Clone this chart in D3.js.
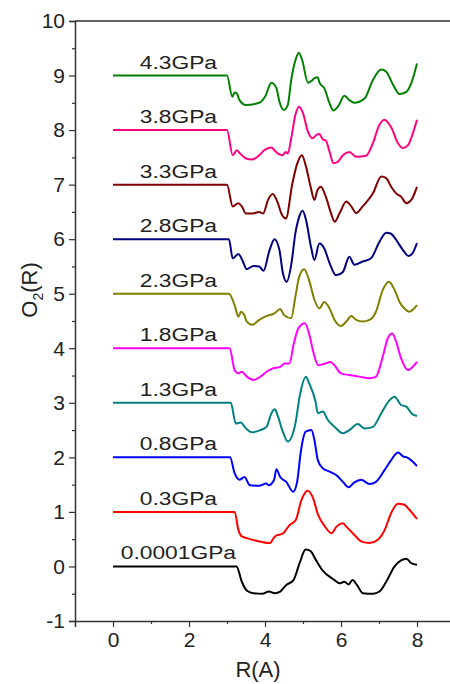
<!DOCTYPE html>
<html>
<head>
<meta charset="utf-8">
<script src="https://cdn.jsdelivr.net/npm/d3@7"></script>
<style>
  body { margin: 0; background: #fff; }
  svg text { font-family: Arial, "Liberation Sans", sans-serif; }
</style>
</head>
<body>
<svg width="450" height="684"></svg>
<script>
// pressure labels, bottom to top
var labels = ["0.0001GPa", "0.3GPa", "0.8GPa", "1.3GPa", "1.8GPa",
              "2.3GPa", "2.8GPa", "3.3GPa", "3.8GPa", "4.3GPa"];
var colors = ["#000000", "#ff0000", "#0000ff", "#008080", "#ff00ff",
              "#808000", "#000080", "#800000", "#ff0080", "#008000"];

// [R, O2(R)]
var p0001 = [[0,0],[3.25,0],[3.39,-0.28],[3.52,-0.44],[3.7,-0.49],[3.93,-0.5],[4.1,-0.46],[4.26,-0.49],
  [4.4,-0.46],[4.56,-0.34],[4.75,-0.25],[4.91,0.06],[5.07,0.31],[5.2,0.28],[5.33,0.13],[5.5,-0.06],
  [5.83,-0.25],[5.96,-0.31],[6.09,-0.28],[6.2,-0.33],[6.3,-0.25],[6.44,-0.36],[6.57,-0.49],[6.84,-0.5],
  [7.01,-0.46],[7.19,-0.28],[7.41,0.0],[7.58,0.11],[7.72,0.14],[7.85,0.06],[8.0,0.03]];
var p03 = [[0,1],[3.2,1],[3.3,0.67],[3.39,0.55],[3.52,0.52],[3.78,0.47],[4.13,0.43],[4.26,0.55],
  [4.48,0.61],[4.65,0.76],[4.81,0.85],[4.96,1.22],[5.12,1.39],[5.25,1.28],[5.4,0.94],[5.58,0.73],
  [5.75,0.61],[5.88,0.73],[6.05,0.79],[6.14,0.73],[6.35,0.58],[6.53,0.46],[6.75,0.43],[6.97,0.49],
  [7.15,0.67],[7.32,0.98],[7.5,1.15],[7.67,1.13],[7.8,1.04],[8.0,0.87]];
var p08 = [[0,2],[3.08,2],[3.2,1.71],[3.33,1.59],[3.46,1.64],[3.6,1.49],[3.85,1.48],[4.03,1.52],
  [4.1,1.49],[4.24,1.59],[4.3,1.78],[4.4,1.64],[4.56,1.55],[4.74,1.37],[4.84,1.53],[4.95,2.14],
  [5.07,2.47],[5.22,2.5],[5.3,2.32],[5.39,1.95],[5.52,1.8],[5.7,1.74],[5.92,1.65],[6.05,1.55],
  [6.2,1.45],[6.35,1.54],[6.53,1.59],[6.75,1.51],[6.92,1.55],[7.15,1.77],[7.32,1.95],[7.5,2.09],
  [7.63,2.02],[7.76,1.99],[7.89,1.92],[8.0,1.84]];
var p13 = [[0,3],[3.1,3],[3.23,2.62],[3.36,2.64],[3.5,2.53],[3.66,2.46],[3.88,2.5],[4.04,2.56],
  [4.17,2.81],[4.26,2.88],[4.34,2.75],[4.47,2.47],[4.6,2.29],[4.8,2.62],[4.92,3.15],[5.08,3.48],
  [5.16,3.36],[5.33,3.02],[5.39,2.81],[5.52,2.84],[5.65,2.69],[5.83,2.56],[6.05,2.44],[6.22,2.5],
  [6.44,2.61],[6.62,2.53],[6.84,2.56],[7.06,2.81],[7.28,3.05],[7.41,3.11],[7.58,2.96],[7.72,2.93],
  [7.85,2.81],[8.0,2.76]];
var p18 = [[0,4],[3.07,4],[3.2,3.6],[3.3,3.54],[3.39,3.57],[3.52,3.48],[3.7,3.42],[3.88,3.48],
  [4.04,3.57],[4.2,3.63],[4.4,3.66],[4.52,3.72],[4.64,3.72],[4.76,4.09],[4.88,4.37],[5.05,4.46],
  [5.18,4.21],[5.28,3.91],[5.4,3.69],[5.58,3.72],[5.72,3.75],[5.8,3.71],[6.0,3.54],[6.22,3.51],
  [6.48,3.48],[6.75,3.45],[6.92,3.48],[7.1,3.85],[7.23,4.18],[7.35,4.27],[7.45,4.12],[7.58,3.82],
  [7.76,3.6],[7.89,3.66],[8.0,3.75]];
var p23 = [[0,5],[3.05,5],[3.2,4.79],[3.3,4.58],[3.37,4.67],[3.45,4.62],[3.52,4.49],[3.66,4.43],
  [3.85,4.52],[4.03,4.59],[4.25,4.64],[4.4,4.72],[4.5,4.61],[4.69,4.55],[4.8,4.95],[4.9,5.31],
  [5.03,5.45],[5.16,5.25],[5.3,4.89],[5.43,4.73],[5.56,4.85],[5.7,4.73],[5.83,4.52],[6.0,4.41],
  [6.14,4.49],[6.27,4.59],[6.4,4.52],[6.57,4.49],[6.75,4.52],[6.92,4.67],[7.1,5.07],[7.26,5.22],
  [7.41,5.07],[7.54,4.85],[7.67,4.73],[7.8,4.67],[8.0,4.79]];
var p28 = [[0,6],[3.05,6],[3.15,5.65],[3.3,5.73],[3.4,5.62],[3.52,5.45],[3.7,5.51],[3.85,5.5],
  [3.96,5.42],[4.12,5.8],[4.25,6.0],[4.38,5.8],[4.47,5.38],[4.57,5.22],[4.69,5.53],[4.8,6.11],
  [4.9,6.41],[4.99,6.52],[5.08,6.35],[5.21,5.86],[5.3,5.62],[5.43,5.92],[5.56,5.83],[5.7,5.56],
  [5.87,5.34],[6.05,5.4],[6.22,5.68],[6.35,5.53],[6.57,5.59],[6.79,5.65],[7.01,5.95],[7.19,6.12],
  [7.32,6.1],[7.45,5.99],[7.63,5.8],[7.78,5.69],[7.89,5.75],[8.0,5.93]];
var p33 = [[0,7],[3.0,7],[3.15,6.6],[3.3,6.66],[3.39,6.6],[3.5,6.47],[3.66,6.47],[3.85,6.5],
  [3.95,6.47],[4.08,6.72],[4.2,6.83],[4.34,6.66],[4.43,6.47],[4.55,6.38],[4.72,7.02],[4.85,7.39],
  [4.97,7.54],[5.08,7.33],[5.2,6.96],[5.3,6.72],[5.38,6.9],[5.47,6.96],[5.6,6.78],[5.74,6.47],
  [5.83,6.32],[5.96,6.47],[6.14,6.69],[6.27,6.6],[6.4,6.48],[6.57,6.6],[6.84,6.84],[7.06,7.15],
  [7.19,7.12],[7.32,6.96],[7.45,6.84],[7.58,6.78],[7.72,6.66],[7.85,6.72],[8.0,6.96]];
var p38 = [[0,8],[3.0,8],[3.15,7.54],[3.26,7.63],[3.33,7.58],[3.5,7.48],[3.66,7.46],[3.85,7.54],
  [3.98,7.63],[4.17,7.68],[4.26,7.62],[4.34,7.57],[4.47,7.54],[4.54,7.6],[4.6,7.57],[4.69,7.85],
  [4.8,8.28],[4.9,8.43],[5.0,8.31],[5.13,7.97],[5.25,7.85],[5.35,7.91],[5.43,7.93],[5.52,7.83],
  [5.6,7.81],[5.7,7.6],[5.8,7.39],[5.92,7.42],[6.05,7.54],[6.22,7.6],[6.4,7.51],[6.66,7.53],
  [6.84,7.76],[7.0,8.08],[7.14,8.19],[7.32,8.05],[7.5,7.76],[7.63,7.67],[7.76,7.72],[7.89,7.94],
  [8.0,8.19]];
var p43 = [[0,9],[3.0,9],[3.14,8.61],[3.2,8.69],[3.26,8.67],[3.33,8.55],[3.5,8.46],[3.85,8.5],
  [4.0,8.61],[4.17,8.87],[4.3,8.77],[4.38,8.52],[4.5,8.37],[4.6,8.46],[4.69,8.92],[4.8,9.28],
  [4.89,9.42],[4.98,9.28],[5.13,8.87],[5.22,8.9],[5.3,8.95],[5.38,8.97],[5.44,8.86],[5.56,8.77],
  [5.7,8.49],[5.8,8.36],[5.92,8.43],[6.09,8.63],[6.22,8.55],[6.35,8.5],[6.62,8.58],[6.84,8.92],
  [7.06,9.11],[7.19,9.07],[7.37,8.83],[7.54,8.66],[7.72,8.7],[7.85,8.86],[8.0,9.22]];
var series = [p0001, p03, p08, p13, p18, p23, p28, p33, p38, p43];
var offsets = [0, 1, 2, 3, 4, 5, 6, 7, 8, 9];

var xTicks = [0, 2, 4, 6, 8];
var xMinor = [1, 3, 5, 7];
var yTicks = d3.range(-1, 11);
var yMinor = d3.range(-0.5, 10, 1);

var svg = d3.select("svg");
var mLeft = 75, mRight = 455, mTop = 21, mBottom = 621;

var x = d3.scaleLinear().domain([-1, 9]).range([mLeft, mRight]);
var y = d3.scaleLinear().domain([-1, 10]).range([mBottom, mTop]);

// curves
var line = d3.line()
    .x(d => x(d[0])).y(d => y(d[1]))
    .curve(d3.curveMonotoneX);

svg.append("g").selectAll("path")
    .data(series).enter().append("path")
    .attr("fill", "none")
    .attr("stroke", (d, i) => colors[i])
    .attr("stroke-width", 2)
    .attr("stroke-linejoin", "round")
    .attr("d", line);

// labels above the flat part
svg.append("g").selectAll("text")
    .data(labels).enter().append("text")
    .attr("transform", (d, i) => "translate(" + x(1.72) + "," + (y(offsets[i]) - 7) + ") scale(1.2,1)")
    .attr("text-anchor", "middle")
    .attr("font-size", 19)
    .attr("fill", "#222")
    .text(d => d);

// axes
var axisColor = "#333";
svg.append("g").attr("transform", "translate(0," + mBottom + ")")
    .call(d3.axisBottom(x).tickValues(xTicks).tickSize(6).tickPadding(5).tickFormat(d => String(d)));
svg.append("g").attr("transform", "translate(0," + mBottom + ")")
    .call(d3.axisBottom(x).tickValues(xMinor).tickSize(3).tickFormat(""))
    .select(".domain").remove();

svg.append("g").attr("transform", "translate(" + mLeft + ",0)")
    .call(d3.axisLeft(y).tickValues(yTicks).tickSize(6).tickPadding(4).tickFormat(d => String(d)));
svg.append("g").attr("transform", "translate(" + mLeft + ",0)")
    .call(d3.axisLeft(y).tickValues(yMinor).tickSize(3).tickFormat(""))
    .select(".domain").remove();

svg.append("line")
    .attr("x1", mLeft).attr("x2", mRight)
    .attr("y1", mTop).attr("y2", mTop)
    .attr("stroke", axisColor).attr("stroke-width", 1.5);

svg.selectAll(".domain").attr("stroke", axisColor).attr("stroke-width", 1.5);
svg.selectAll(".tick line").attr("stroke", axisColor).attr("stroke-width", 1.2);
svg.selectAll(".tick text")
    .attr("font-family", "Arial, 'Liberation Sans', sans-serif")
    .attr("font-size", 21).attr("fill", "#222");

// axis titles
svg.append("text")
    .attr("x", 258).attr("y", 677)
    .attr("text-anchor", "middle")
    .attr("font-size", 22).attr("fill", "#222")
    .text("R(A)");

var yt = svg.append("text")
    .attr("transform", "translate(37,290) rotate(-90)")
    .attr("text-anchor", "middle")
    .attr("font-size", 22).attr("fill", "#222");
yt.append("tspan").text("O");
yt.append("tspan").attr("font-size", 14).attr("dy", 6).text("2");
yt.append("tspan").attr("dy", -6).text("(R)");
</script>
</body>
</html>
